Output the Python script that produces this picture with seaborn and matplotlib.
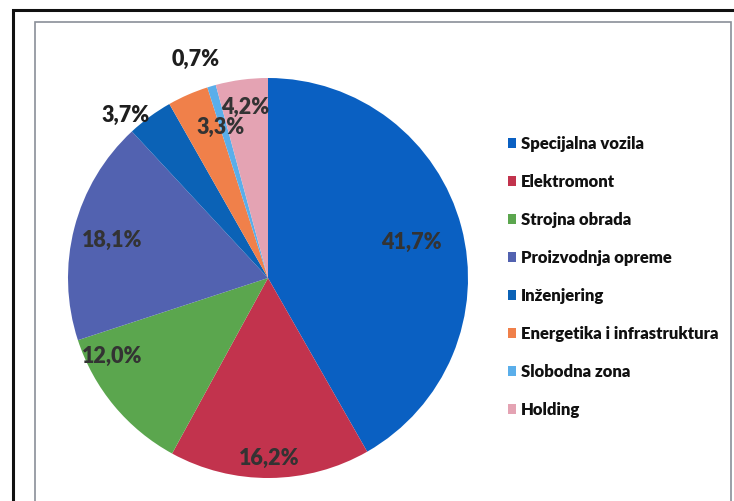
import matplotlib
matplotlib.use("Agg")
import matplotlib.pyplot as plt
import matplotlib.patches as mpatches
import seaborn as sns
import numpy as np

# data
categories = ["Specijalna vozila", "Elektromont", "Strojna obrada", "Proizvodnja opreme",
              "Inženjering", "Energetika i infrastruktura", "Slobodna zona", "Holding"]
shares = [41.7, 16.2, 12.0, 18.1, 3.7, 3.3, 0.7, 4.2]
labels = ["41,7%", "16,2%", "12,0%", "18,1%", "3,7%", "3,3%", "0,7%", "4,2%"]

colors = sns.color_palette(["#0a60c2", "#c2334d", "#5ba64e", "#5262b0",
                            "#0b62b6", "#f0804a", "#5aaeea", "#e4a3b3"])

# label placement (Excel "best fit" look): radius and angle nudge per slice
label_r = [0.74, 0.90, 0.87, 0.80, 1.08, 0.79, 1.15, 0.86]
label_da = [-1, 0, -13, 1, 5, -6, 2, 0]

sns.set_theme(style="white")
plt.rcParams["font.family"] = ["Lato", "DejaVu Sans"]

fig = plt.figure(figsize=(7.34, 5.01), dpi=100)
W, H = 734, 501

# frame lines of the scanned chart
fig.add_artist(mpatches.Rectangle((13 / W, -0.05), 1.1, (H - 10) / H + 0.05,
                                  transform=fig.transFigure, fill=False,
                                  edgecolor="#111111", lw=2.2))
fig.add_artist(mpatches.Rectangle((35 / W, -0.05), (731 - 35) / W, (H - 22) / H + 0.05,
                                  transform=fig.transFigure, fill=False,
                                  edgecolor="#8a8f98", lw=1.2))

cx, cy, rad = 268, H - 278, 200
ax = fig.add_axes([(cx - rad) / W, (cy - rad) / H, 2 * rad / W, 2 * rad / H])
wedges, _ = ax.pie(shares, colors=colors, startangle=90, counterclock=False,
                   radius=1.0, wedgeprops=dict(linewidth=0))
ax.set_xlim(-1, 1)
ax.set_ylim(-1, 1)
ax.set_aspect("equal")
ax.axis("off")

for i, (w, lab, r, da) in enumerate(zip(wedges, labels, label_r, label_da)):
    ang = np.deg2rad((w.theta1 + w.theta2) / 2 + da)
    col = "#1e1e1e" if r > 1 else "#333333"
    ax.text(r * np.cos(ang), r * np.sin(ang), lab, ha="center", va="center",
            fontsize=15.5, fontweight="heavy", color=col, clip_on=False)

leg = fig.legend(wedges, categories, loc="upper left",
                 bbox_to_anchor=(493 / W, (H - 121) / H), frameon=False,
                 handlelength=0.5, handleheight=0.5, handletextpad=0.3,
                 labelspacing=1.32, prop=dict(size=12, weight="heavy"))
for t in leg.get_texts():
    t.set_color("#111111")

fig.savefig("out.png", dpi=100)
